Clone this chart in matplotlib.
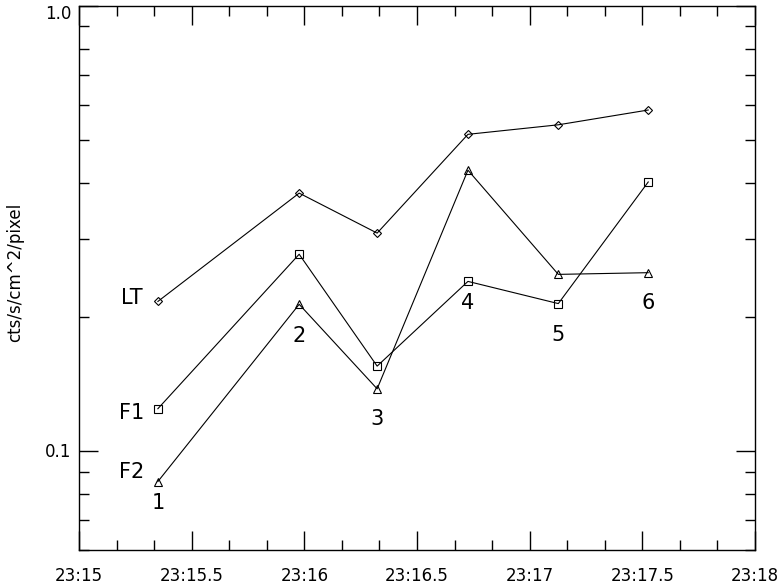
import numpy as np
import matplotlib
matplotlib.use("Agg")
import matplotlib.pyplot as plt
from matplotlib.ticker import FixedLocator, MultipleLocator, FuncFormatter, NullFormatter

# time in minutes after 23:00
times = [15.350, 15.977, 16.323, 16.726, 17.127, 17.526]
lt = [0.217, 0.380, 0.309, 0.515, 0.541, 0.584]
f1 = [0.1246, 0.277, 0.1553, 0.2407, 0.2146, 0.4025]
f2 = [0.0855, 0.2138, 0.1381, 0.4278, 0.2496, 0.2518]
point_labels = ["1", "2", "3", "4", "5", "6"]
ytick_vals = [0.1, 1.0]
ytick_text = ["0.1", "1.0"]

fig = plt.figure(figsize=(7.8, 5.84), dpi=100)
ax = fig.add_axes([0.1013, 0.0582, 0.8667, 0.9315])

ax.plot(times, lt, color="black", lw=0.8, marker="D", ms=4, mfc="none", mew=0.8)
ax.plot(times, f1, color="black", lw=0.8, marker="s", ms=5.5, mfc="none", mew=0.8)
ax.plot(times, f2, color="black", lw=0.8, marker="^", ms=5.5, mfc="none", mew=0.8)

ax.set_yscale("log")
ax.set_xlim(15.0, 18.0)
ax.set_ylim(0.06, 1.0)

def fmt_time(v, pos):
    return "23:" + ("%g" % v)

ax.xaxis.set_major_locator(MultipleLocator(0.5))
ax.xaxis.set_minor_locator(MultipleLocator(1 / 6))
ax.xaxis.set_major_formatter(FuncFormatter(fmt_time))

ax.yaxis.set_major_locator(FixedLocator(ytick_vals))
ax.yaxis.set_minor_locator(FixedLocator([0.06, 0.07, 0.08, 0.09, 0.2, 0.3, 0.4, 0.5, 0.6, 0.7, 0.8, 0.9]))
ax.yaxis.set_major_formatter(NullFormatter())
ax.yaxis.set_minor_formatter(NullFormatter())

ax.tick_params(which="both", direction="in", top=True, right=True, width=1)
ax.tick_params(axis="x", labelsize=12, pad=12)
ax.tick_params(which="major", length=14)
ax.tick_params(which="minor", length=7)
for s in ax.spines.values():
    s.set_linewidth(1)

# y tick labels, IDL style (top one sits a bit below its tick)
ax.text(-0.011, (550 - 452) / 544, ytick_text[0], transform=ax.transAxes,
        ha="right", va="center", fontsize=12)
ax.text(-0.011, (550 - 14) / 544, ytick_text[1], transform=ax.transAxes,
        ha="right", va="center", fontsize=12)

ax.set_ylabel("cts/s/cm^2/pixel", fontsize=12)
ax.yaxis.set_label_coords(-0.081, (550 - 272) / 544)

# series names
tr = ax.transAxes
ax.text(0.078, (550 - 298) / 544, "LT", transform=tr, ha="center", va="center", fontsize=15)
ax.text(0.078, (550 - 413) / 544, "F1", transform=tr, ha="center", va="center", fontsize=15)
ax.text(0.078, (550 - 472) / 544, "F2", transform=tr, ha="center", va="center", fontsize=15)

# point numbers
label_py = [503, 336, 419, 303, 335, 303]
for t, lab, py in zip(times, point_labels, label_py):
    ax.text(t, (550 - py) / 544, lab, transform=ax.get_xaxis_transform(),
            ha="center", va="center", fontsize=15)

fig.savefig("out.png", dpi=100)
